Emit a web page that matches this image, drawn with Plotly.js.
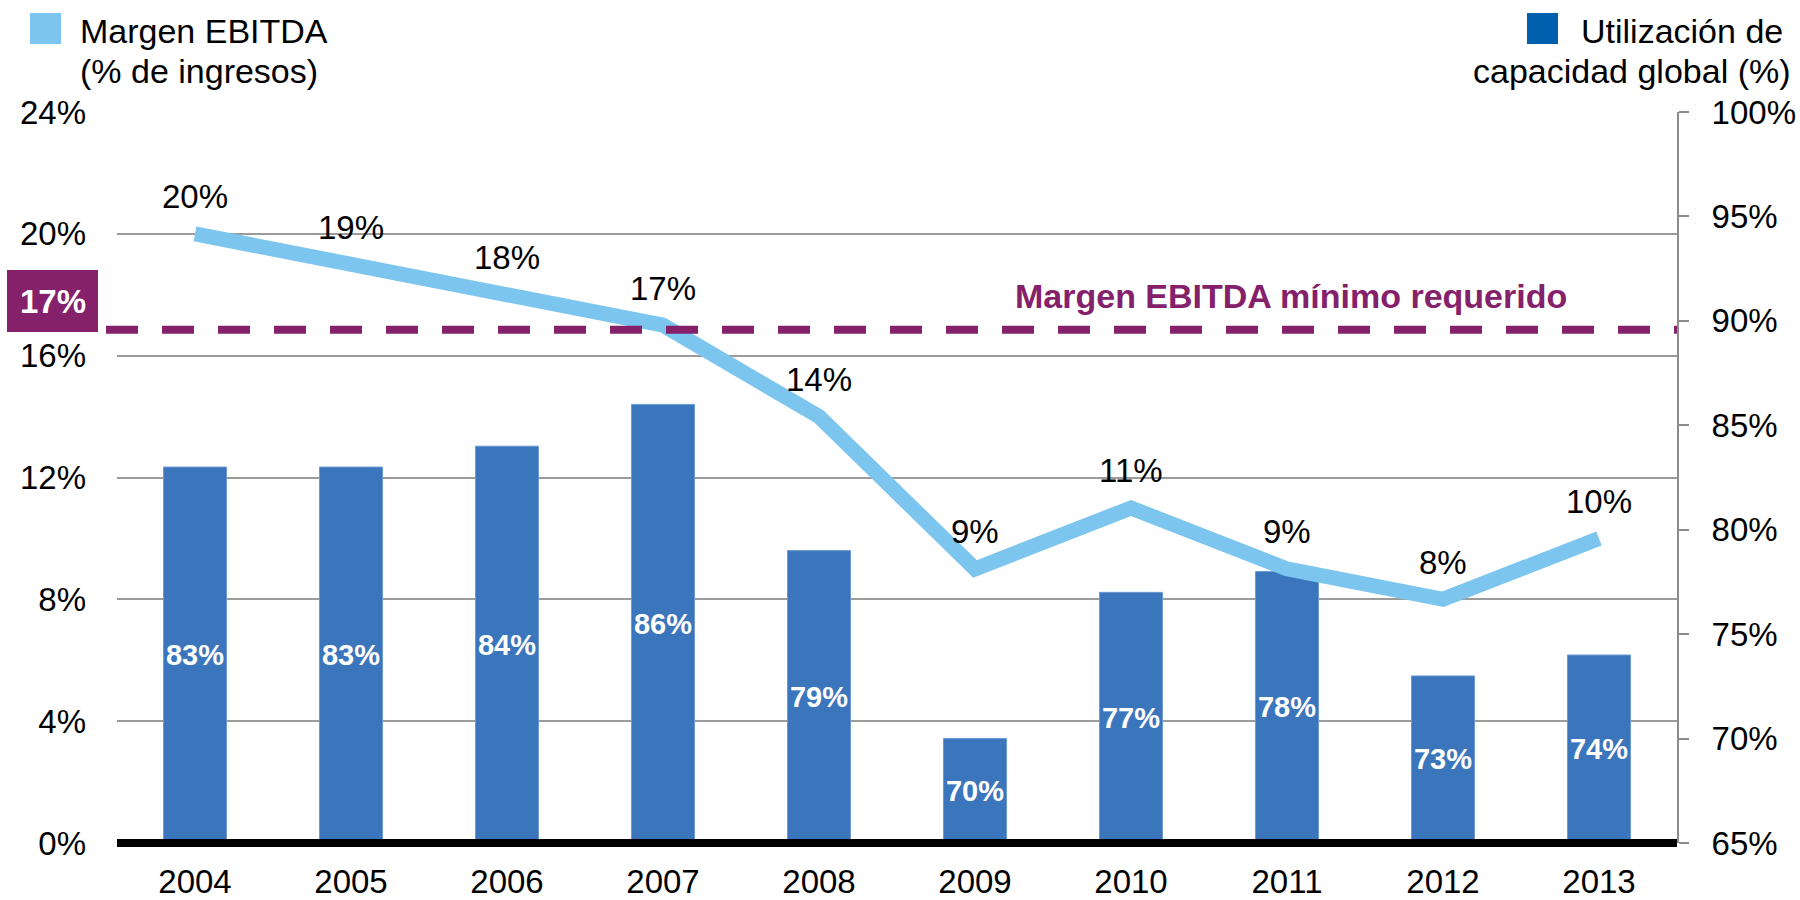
<!DOCTYPE html>
<html>
<head>
<meta charset="utf-8">
<script src="https://cdn.plot.ly/plotly-3.0.1.min.js"></script>
<style>
  html, body { margin: 0; padding: 0; background: #ffffff; }
  #chart { width: 1800px; height: 900px; }
</style>
</head>
<body>
<div id="chart"></div>
<script>
// ---- Data ----
const years = ['2004', '2005', '2006', '2007', '2008', '2009', '2010', '2011', '2012', '2013'];
const ebitdaMargin = [20, 19, 18, 17, 14, 9, 11, 9, 8, 10];          // % de ingresos (left axis)
const capacityUtilization = [83, 83, 84, 86, 79, 70, 77, 78, 73, 74]; // % (right axis)
const minMarginLevel = 16.85;     // position of the dashed line
const minMarginLabel = '17%';
const minMarginText = 'Margen EBITDA mínimo requerido';
const lineLegendLines = ['Margen EBITDA', '(% de ingresos)'];
const barLegendLines = ['Utilización de', 'capacidad global (%)'];

// ---- Layout geometry (pixels) ----
const W = 1800, H = 900;
const L = 117, R = 1677, T = 112, B = 843;
const px = x => (x - L) / (R - L);
const py = y => (B - y) / (B - T);

const FONT = '"Liberation Sans", Arial, Helvetica, sans-serif';
const BAR_AXIS_MIN = 65, BAR_AXIS_MAX = 100;

const barTrace = {
  type: 'bar',
  x: years,
  base: BAR_AXIS_MIN,
  y: capacityUtilization.map(v => v - BAR_AXIS_MIN),
  text: capacityUtilization.map(v => v + '%'),
  textposition: 'inside',
  insidetextanchor: 'middle',
  textangle: 0,
  constraintext: 'none',
  textfont: { family: FONT, size: 29, color: '#ffffff', weight: 'bold' },
  marker: { color: '#3B76BC', line: { color: '#6A9BD6', width: 1 } },
  yaxis: 'y',
  hoverinfo: 'skip'
};

const lineTrace = {
  type: 'scatter',
  mode: 'lines',
  x: years,
  y: ebitdaMargin,
  line: { color: '#7CC5EE', width: 15 },
  yaxis: 'y2',
  cliponaxis: false,
  hoverinfo: 'skip'
};

const annotations = [];
// line value labels (category axis: use category index)
years.forEach((yr, i) => {
  annotations.push({
    xref: 'x', yref: 'y2', x: i, y: ebitdaMargin[i],
    text: ebitdaMargin[i] + '%', showarrow: false, yshift: 37,
    xanchor: 'center', yanchor: 'middle',
    font: { family: FONT, size: 33, color: '#000000' }
  });
});
// threshold label
annotations.push({
  xref: 'paper', yref: 'paper', x: px(1291), y: py(296),
  text: '<b>' + minMarginText + '</b>', showarrow: false,
  xanchor: 'center', yanchor: 'middle',
  font: { family: FONT, size: 34, color: '#85216B' }
});
annotations.push({
  xref: 'paper', yref: 'paper', x: px(53), y: py(301),
  text: '<b>' + minMarginLabel + '</b>', showarrow: false,
  xanchor: 'center', yanchor: 'middle',
  font: { family: FONT, size: 33, color: '#ffffff' }
});
// legends
lineLegendLines.forEach((t, i) => {
  annotations.push({
    xref: 'paper', yref: 'paper', x: px(78), y: py(31 + 40 * i),
    text: t, showarrow: false, xanchor: 'left', yanchor: 'middle',
    font: { family: FONT, size: 34, color: '#000000' }
  });
});
barLegendLines.forEach((t, i) => {
  annotations.push({
    xref: 'paper', yref: 'paper', x: px(i === 0 ? 1785 : 1793), y: py(31 + 40 * i),
    text: t, showarrow: false, xanchor: 'right', yanchor: 'middle',
    font: { family: FONT, size: 34, color: '#000000' }
  });
});

const shapes = [
  // dashed minimum-margin line
  {
    type: 'line', xref: 'paper', yref: 'y2',
    x0: px(106), x1: 1, y0: minMarginLevel, y1: minMarginLevel,
    line: { color: '#85216B', width: 8, dash: '32px,24px' }, layer: 'above'
  },
  // label box
  {
    type: 'rect', xref: 'paper', yref: 'paper',
    x0: px(7), x1: px(98), y0: py(332), y1: py(270),
    fillcolor: '#85216B', line: { width: 0 }, layer: 'above'
  },
  // black baseline
  {
    type: 'line', xref: 'paper', yref: 'paper',
    x0: 0, x1: 1, y0: 0, y1: 0,
    line: { color: '#000000', width: 8 }, layer: 'above'
  },
  // legend squares
  {
    type: 'rect', xref: 'paper', yref: 'paper',
    x0: px(30), x1: px(61), y0: py(44), y1: py(13),
    fillcolor: '#7CC5EE', line: { width: 0 }
  },
  {
    type: 'rect', xref: 'paper', yref: 'paper',
    x0: px(1527), x1: px(1558), y0: py(44), y1: py(13),
    fillcolor: '#0060AD', line: { width: 0 }
  }
];

const layout = {
  width: W, height: H,
  margin: { l: L, r: W - R, t: T, b: H - B, pad: 0 },
  paper_bgcolor: '#ffffff',
  plot_bgcolor: 'rgba(0,0,0,0)',
  showlegend: false,
  hovermode: false,
  bargap: 0.596,
  font: { family: FONT, size: 33, color: '#000000' },
  xaxis: {
    type: 'category',
    range: [-0.5, years.length - 0.5],
    showgrid: false, zeroline: false, showline: false,
    ticks: '', ticklabelstandoff: 16,
    tickfont: { family: FONT, size: 33, color: '#000000' },
    automargin: false
  },
  yaxis: {
    side: 'right',
    range: [BAR_AXIS_MIN, BAR_AXIS_MAX],
    dtick: 5, tick0: BAR_AXIS_MIN,
    ticksuffix: '%',
    showgrid: false, zeroline: false,
    showline: true, linecolor: '#8C8C8C', linewidth: 2,
    ticks: 'outside', ticklen: 10, tickwidth: 2, tickcolor: '#8C8C8C',
    ticklabelstandoff: 16,
    tickfont: { family: FONT, size: 33, color: '#000000' },
    automargin: false
  },
  yaxis2: {
    overlaying: 'y', side: 'left',
    range: [0, 24], dtick: 4, tick0: 0,
    ticksuffix: '%',
    showgrid: true, gridcolor: '#9B9B9B', gridwidth: 2,
    zeroline: false, showline: false, ticks: '',
    ticklabelstandoff: 30,
    tickfont: { family: FONT, size: 33, color: '#000000' },
    automargin: false
  },
  annotations: annotations,
  shapes: shapes
};

Plotly.newPlot('chart', [barTrace, lineTrace], layout, { displayModeBar: false, staticPlot: true });
</script>
</body>
</html>
